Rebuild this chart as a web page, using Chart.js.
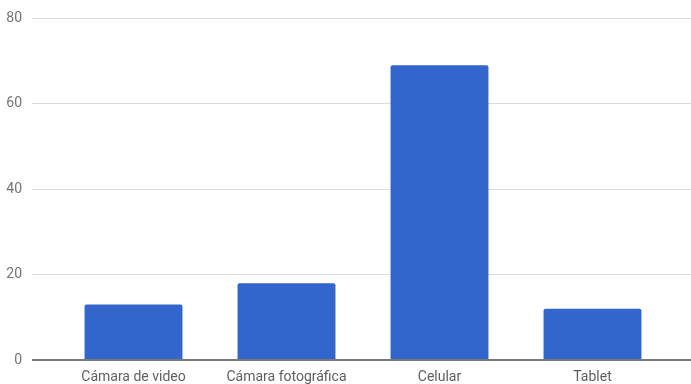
<!DOCTYPE html>
<html>
<head>
<meta charset="utf-8">
<script src="https://cdn.jsdelivr.net/npm/chart.js@4/dist/chart.umd.min.js"></script>
<style>
  html, body { margin: 0; padding: 0; background: #fff; }
  #wrap { width: 691px; height: 384px; }
</style>
</head>
<body>
<div id="wrap"><canvas id="chart"></canvas></div>
<script>
const categories = ['Cámara de video', 'Cámara fotográfica', 'Celular', 'Tablet'];
const values = [13, 18, 69, 12];
const yTicks = [0, 20, 40, 60, 80];

const gridColor = (c) => c.tick && c.tick.value === 0 ? '#7a7a7a' : '#dcdcdc';
const gridWidth = (c) => c.tick && c.tick.value === 0 ? 2 : 1;

new Chart(document.getElementById('chart'), {
  type: 'bar',
  data: {
    labels: categories,
    datasets: [{
      data: values,
      backgroundColor: '#3366cc',
      borderRadius: 2,
      borderSkipped: 'bottom',
      barPercentage: 0.64,
      categoryPercentage: 1
    }]
  },
  options: {
    responsive: true,
    maintainAspectRatio: false,
    animation: false,
    layout: { padding: { top: 18, left: 0, right: 0, bottom: 0 } },
    plugins: { legend: { display: false }, tooltip: { enabled: false } },
    scales: {
      x: {
        grid: { display: false, drawTicks: false },
        border: { display: false },
        afterFit: (s) => { s.height = 24; },
        ticks: { color: '#5f5f5f', padding: 9, font: { family: 'Roboto', size: 14 }, maxRotation: 0, autoSkip: false }
      },
      y: {
        min: yTicks[0],
        max: yTicks[yTicks.length - 1],
        afterBuildTicks: (s) => { s.ticks = yTicks.map(v => ({ value: v })); },
        afterFit: (s) => { s.width = 57; },
        grid: { color: gridColor, lineWidth: gridWidth, tickLength: 25, tickColor: gridColor },
        border: { display: false },
        ticks: { color: '#757575', padding: 10, font: { family: 'Roboto', size: 14 } }
      },
      yRight: {
        position: 'right',
        min: yTicks[0],
        max: yTicks[yTicks.length - 1],
        afterBuildTicks: (s) => { s.ticks = yTicks.map(v => ({ value: v })); },
        afterFit: (s) => { s.width = 22; },
        grid: { drawOnChartArea: false, color: gridColor, lineWidth: gridWidth, tickLength: 22, tickColor: gridColor },
        border: { display: false },
        ticks: { display: false }
      }
    }
  }
});
</script>
</body>
</html>
